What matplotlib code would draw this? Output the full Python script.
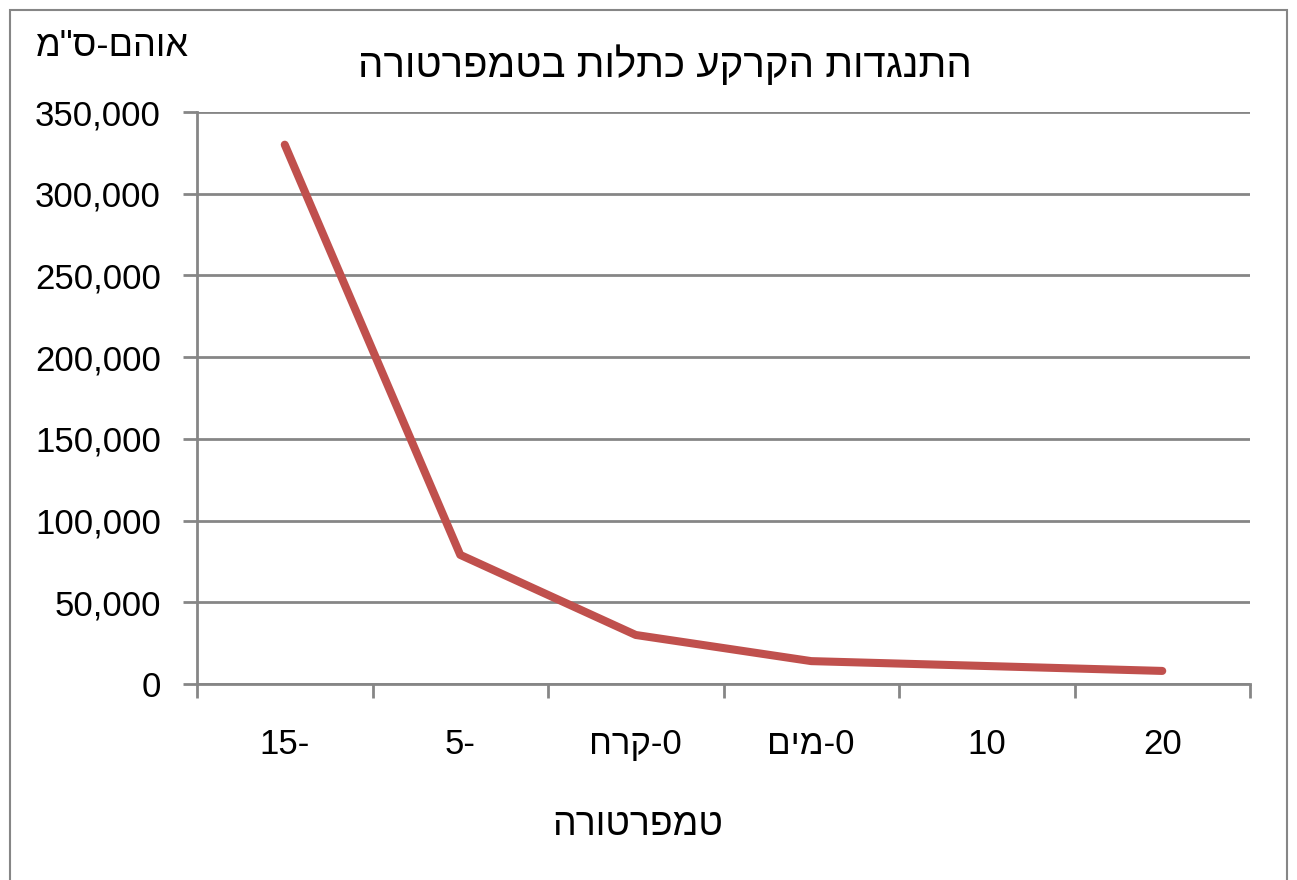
import re
import matplotlib
matplotlib.use("Agg")
import matplotlib.pyplot as plt
from matplotlib.patches import Rectangle
from matplotlib.ticker import FuncFormatter

plt.rcParams['font.family'] = ['Liberation Sans', 'DejaVu Sans']

# data
categories = ["-15", "-5", "0-קרח", "0-מים", "10", "20"]
resistance = [330000, 79000, 30000, 14000, 11000, 8000]

title = "התנגדות הקרקע כתלות בטמפרטורה"
y_label = 'אוהם-ס"מ'
x_label = "טמפרטורה"

W, H = 1297, 880
grey = "#868686"
red = "#C0504D"


def rtl(s):
    # matplotlib has no bidi support: lay the text out right to left by hand,
    # keeping runs of digits in their own order
    return re.sub(r"\d+", lambda m: m.group(0)[::-1], s[::-1])


fig = plt.figure(figsize=(W / 100, H / 100), dpi=100)
ax = fig.add_axes([197 / W, 1 - 684 / H, (1250 - 197) / W, (684 - 112) / H])

x = list(range(len(categories)))
ax.plot(x, resistance, color=red, lw=5.8, solid_capstyle='round', solid_joinstyle='round', zorder=3)

ax.set_xlim(-0.5, len(categories) - 0.5)
ax.set_ylim(0, 350000)
ax.set_yticks(range(0, 350001, 50000))
ax.yaxis.set_major_formatter(FuncFormatter(lambda v, p: f"{int(v):,}"))
ax.grid(axis='y', color=grey, lw=2.0)
ax.set_axisbelow(True)

# category labels in slot centres, tick marks on slot edges
ax.set_xticks(x)
ax.set_xticklabels([rtl(c) for c in categories])
ax.set_xticks([i - 0.5 for i in range(len(categories) + 1)], minor=True)
ax.tick_params(axis='x', which='major', length=0, pad=32, labelsize=25)
ax.tick_params(axis='x', which='minor', length=10, width=2.0, color=grey, direction='out')
ax.tick_params(axis='y', length=10, width=2.0, color=grey, pad=16, labelsize=25)

for s in ['top', 'right']:
    ax.spines[s].set_visible(False)
for s in ['left', 'bottom']:
    ax.spines[s].set_color(grey)
    ax.spines[s].set_linewidth(2.0)

fig.text(665 / W, 1 - 65 / H, rtl(title), ha='center', va='center', fontsize=29)
fig.text(35 / W, 1 - 47 / H, rtl(y_label), ha='left', va='center', fontsize=26)
fig.text(638 / W, 1 - 825 / H, rtl(x_label), ha='center', va='center', fontsize=27)

# outer chart border
fig.patches.append(Rectangle((10 / W, -0.1), (1287 - 10) / W, 1.1 - 10 / H,
                             transform=fig.transFigure, fill=False, edgecolor=grey, lw=1.5))

fig.savefig("out.png", dpi=100)
